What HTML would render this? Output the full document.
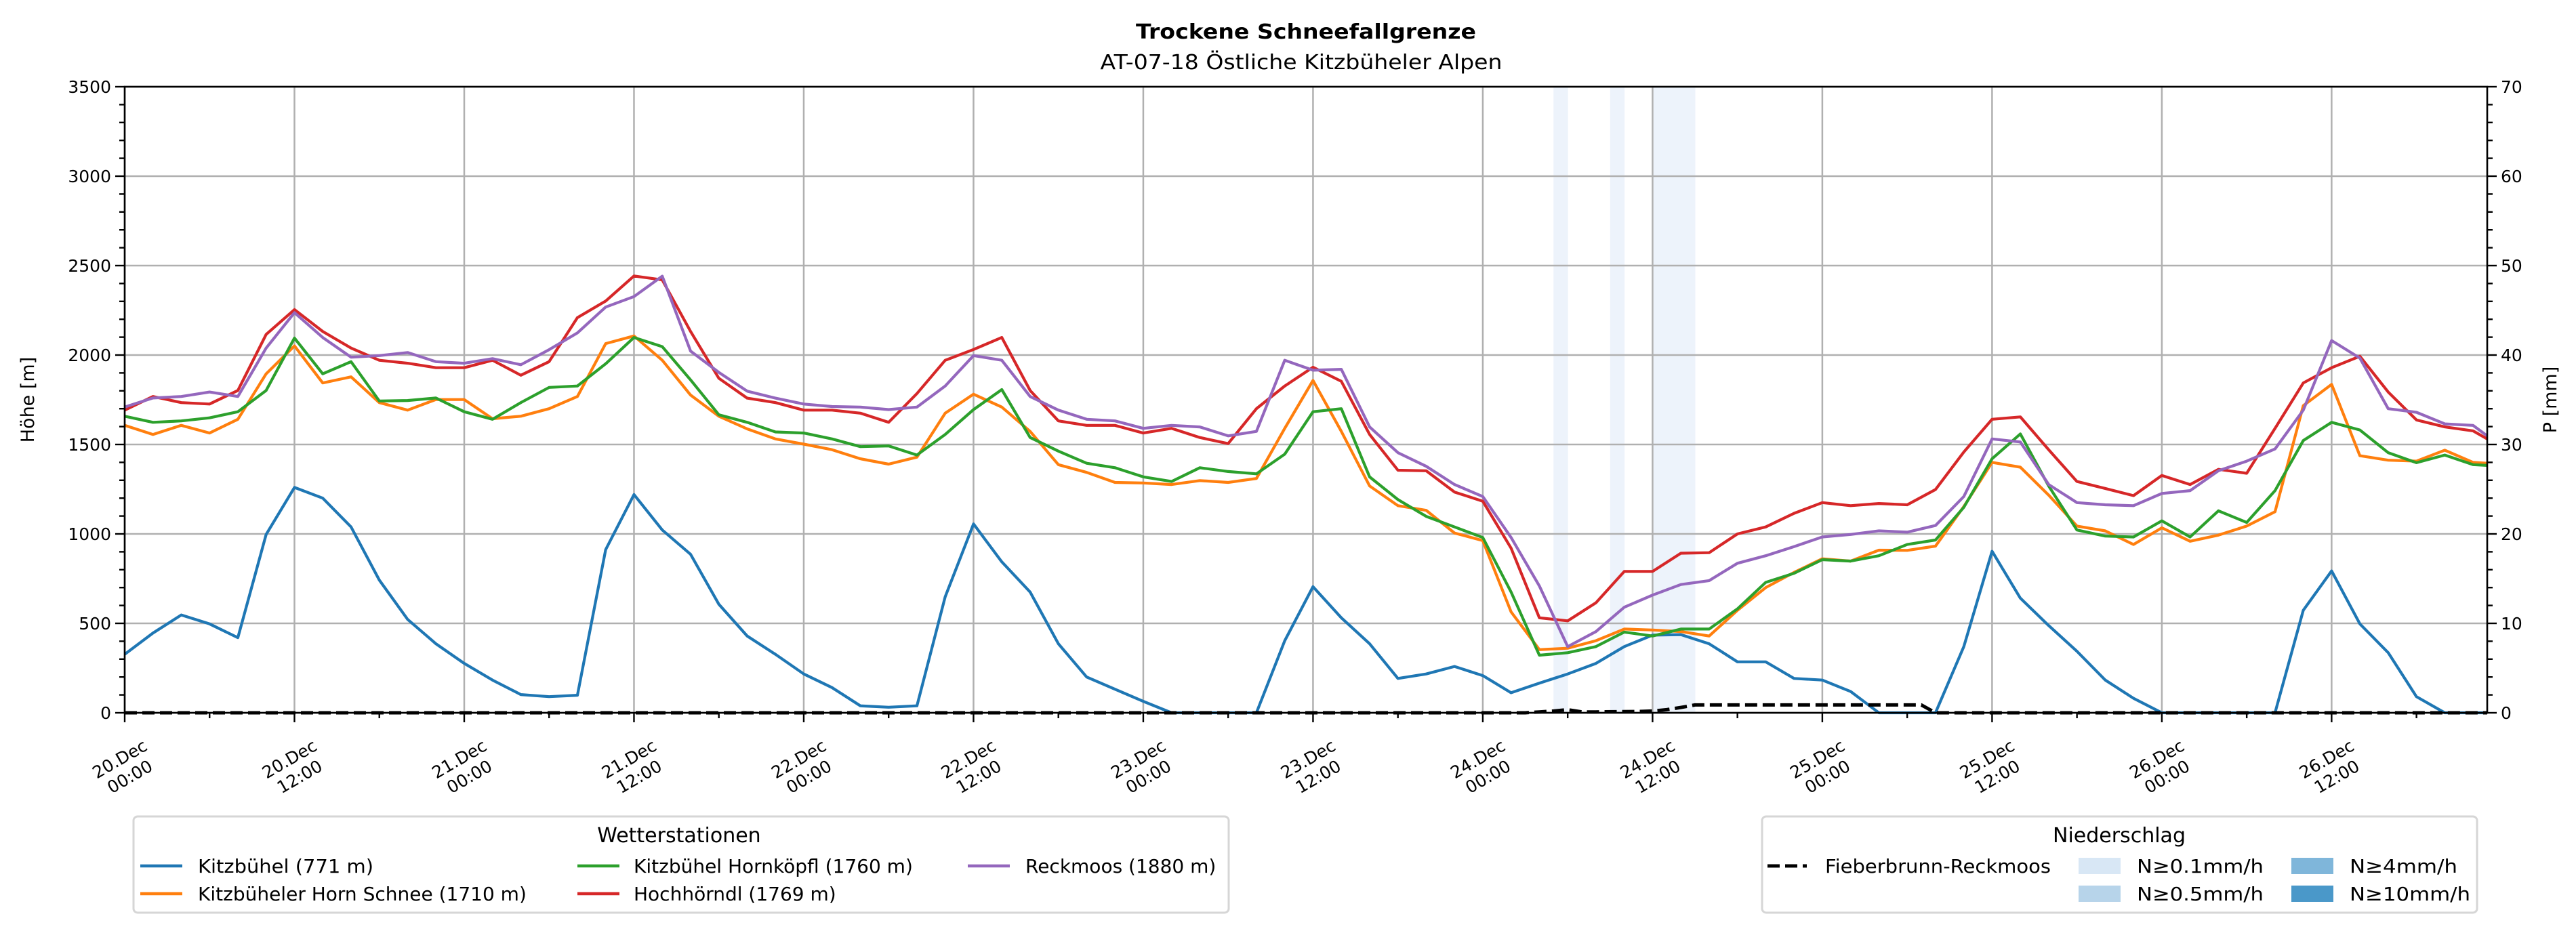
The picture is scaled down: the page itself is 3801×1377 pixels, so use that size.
<!DOCTYPE html>
<html><head><meta charset="utf-8">
<style>
html,body{margin:0;padding:0;background:#fff;}
svg{display:block;font-family:"DejaVu Sans","Liberation Sans",sans-serif;}
</style></head>
<body>
<svg id="chart" xmlns="http://www.w3.org/2000/svg" width="3801" height="1377" viewBox="0 0 3801 1377">
  <rect x="0" y="0" width="3801" height="1377" fill="#fff"/>
  <text x="1927" y="57" text-anchor="middle" font-weight="bold" font-size="30" textLength="502" lengthAdjust="spacingAndGlyphs">Trockene Schneefallgrenze</text>
  <text x="1920" y="102" text-anchor="middle" font-size="30" textLength="593" lengthAdjust="spacingAndGlyphs">AT-07-18 Östliche Kitzbüheler Alpen</text>
  <g id="bands"></g>
  <g id="grid"></g>
  <g id="series"></g>
  <g id="axes"></g>
  <text transform="translate(50,590) rotate(-90)" text-anchor="middle" font-size="27">Höhe [m]</text>
  <text transform="translate(3772,590) rotate(-90)" text-anchor="middle" font-size="27">P [mm]</text>

  <g>
    <rect x="197" y="1205" width="1616" height="142" rx="6" fill="#fff" stroke="#d6d6d6" stroke-width="3"/>
    <text x="1002" y="1243" text-anchor="middle" font-size="30">Wetterstationen</text>
    <g><line x1="207" y1="1278" x2="269" y2="1278" stroke="#1f77b4" stroke-width="4.5"/><text x="292" y="1288" font-size="28" textLength="259" lengthAdjust="spacingAndGlyphs">Kitzbühel (771 m)</text></g>
    <g><line x1="207" y1="1319" x2="269" y2="1319" stroke="#ff7f0e" stroke-width="4.5"/><text x="292" y="1329" font-size="28">Kitzbüheler Horn Schnee (1710 m)</text></g>
    <g><line x1="852" y1="1278" x2="914" y2="1278" stroke="#2ca02c" stroke-width="4.5"/><text x="935" y="1288" font-size="28">Kitzbühel Hornköpfl (1760 m)</text></g>
    <g><line x1="852" y1="1319" x2="914" y2="1319" stroke="#d62728" stroke-width="4.5"/><text x="935" y="1329" font-size="28">Hochhörndl (1769 m)</text></g>
    <g><line x1="1428" y1="1278" x2="1490" y2="1278" stroke="#9467bd" stroke-width="4.5"/><text x="1513" y="1288" font-size="28">Reckmoos (1880 m)</text></g>
  </g>

  <g>
    <rect x="2600" y="1205" width="1055" height="142" rx="6" fill="#fff" stroke="#d6d6d6" stroke-width="3"/>
    <text x="3127" y="1243" text-anchor="middle" font-size="30">Niederschlag</text>
    <g><line x1="2608" y1="1278" x2="2666" y2="1278" stroke="#000" stroke-width="5" stroke-dasharray="18,8"/><text x="2693" y="1288" font-size="28" textLength="333" lengthAdjust="spacingAndGlyphs">Fieberbrunn-Reckmoos</text></g>
    <g><rect x="3067" y="1266" width="62" height="24" fill="#d8e7f5"/><text x="3153" y="1288" font-size="28" textLength="187" lengthAdjust="spacingAndGlyphs">N≥0.1mm/h</text></g>
    <g><rect x="3067" y="1307" width="62" height="24" fill="#b7d4ea"/><text x="3153" y="1329" font-size="28" textLength="187" lengthAdjust="spacingAndGlyphs">N≥0.5mm/h</text></g>
    <g><rect x="3381" y="1266" width="62" height="24" fill="#7fb6da"/><text x="3467" y="1288" font-size="28" textLength="159" lengthAdjust="spacingAndGlyphs">N≥4mm/h</text></g>
    <g><rect x="3381" y="1307" width="62" height="24" fill="#4a98c9"/><text x="3467" y="1329" font-size="28" textLength="178" lengthAdjust="spacingAndGlyphs">N≥10mm/h</text></g>
  </g>
</svg>
<script>
// ---- data ----
const hours = [0,2,4,6,8,10,12,14,16,18,20,22,24,26,28,30,32,34,36,38,40,42,44,46,48,50,52,54,56,58,60,62,64,66,68,70,72,74,76,78,80,82,84,86,88,90,92,94,96,98,100,102,104,106,108,110,112,114,116,118,120,122,124,126,128,130,132,134,136,138,140,142,144,146,148,150,152,154,156,158,160,162,164,166,167];
const kitzbuehel = [327,446,547,497,420,997,1260,1200,1039,742,522,386,276,183,102,90,98,912,1220,1022,886,607,429,327,217,141,39,31,39,649,1056,844,675,386,200,132,64,0,0,0,0,403,705,531,386,192,217,259,208,112,166,217,276,370,434,437,386,285,285,192,183,119,0,0,0,370,903,641,488,344,183,81,0,0,0,0,0,573,793,497,336,90,0,0,0];
const hornSchnee = [1607,1556,1607,1564,1641,1895,2051,1844,1878,1734,1692,1751,1751,1644,1658,1700,1768,2064,2107,1971,1776,1658,1587,1531,1502,1471,1420,1390,1429,1675,1781,1709,1573,1387,1344,1288,1285,1276,1298,1288,1310,1590,1858,1573,1268,1158,1132,1005,963,564,353,361,403,468,463,454,429,573,700,785,861,848,909,908,932,1153,1400,1373,1217,1044,1017,941,1034,959,993,1044,1124,1717,1836,1437,1412,1407,1468,1400,1395];
const hornkoepfl = [1658,1624,1632,1649,1683,1802,2095,1895,1963,1743,1746,1760,1683,1641,1734,1819,1827,1951,2098,2047,1861,1666,1624,1570,1564,1531,1488,1492,1441,1556,1695,1807,1539,1463,1395,1370,1319,1293,1370,1349,1336,1446,1683,1700,1319,1192,1098,1039,980,675,322,336,370,451,429,468,468,581,729,780,856,848,878,941,966,1149,1420,1559,1268,1022,988,983,1073,983,1129,1064,1242,1522,1624,1581,1454,1398,1441,1387,1383];
const hochhoerndl = [1692,1768,1734,1726,1802,2115,2254,2132,2039,1971,1954,1929,1929,1971,1887,1963,2209,2302,2442,2420,2132,1870,1759,1734,1692,1692,1675,1624,1785,1971,2031,2098,1802,1632,1607,1607,1564,1590,1539,1505,1700,1827,1932,1853,1556,1356,1353,1234,1183,920,531,514,615,790,790,892,895,1000,1039,1115,1175,1158,1170,1163,1248,1458,1641,1654,1471,1293,1254,1214,1327,1276,1361,1339,1590,1844,1929,1993,1793,1637,1598,1576,1531];
const reckmoos = [1709,1760,1768,1793,1768,2039,2237,2098,1988,1997,2014,1963,1954,1980,1946,2030,2124,2268,2327,2441,2022,1903,1798,1759,1726,1712,1709,1695,1709,1827,1997,1971,1768,1692,1641,1632,1590,1607,1598,1548,1573,1971,1915,1920,1598,1454,1378,1276,1209,980,709,370,454,590,658,717,739,836,878,929,983,997,1017,1010,1047,1209,1531,1514,1276,1175,1163,1158,1226,1242,1353,1407,1475,1692,2081,1983,1700,1680,1615,1607,1548];
const precipHours = [0,99,100,101,102,103,104,107,108,109,110,111,127,128,167];
const precipMm = [0,0,0.1,0.2,0.35,0.1,0.1,0.15,0.2,0.35,0.6,0.88,0.88,0,0];
const bandStart = [101,105,108,109,110];
const yTicks = [0,500,1000,1500,2000,2500,3000,3500];
const y2Ticks = [0,10,20,30,40,50,60,70];
const xTickDates = ["20.Dec","20.Dec","21.Dec","21.Dec","22.Dec","22.Dec","23.Dec","23.Dec","24.Dec","24.Dec","25.Dec","25.Dec","26.Dec","26.Dec"];
const xTickTimes = ["00:00","12:00","00:00","12:00","00:00","12:00","00:00","12:00","00:00","12:00","00:00","12:00","00:00","12:00"];

// ---- scales ----
const L=184,R=3670,T=128,B=1052,HMAX=167;
const xs = h => L + h*(R-L)/HMAX;
const ys = v => B - v*(B-T)/3500;
const yp = v => B - v*(B-T)/70;
const NS="http://www.w3.org/2000/svg";
function mk(tag, parent){const e=document.createElementNS(NS,tag);document.getElementById(parent).appendChild(e);return e;}

bandStart.forEach((h,i)=>{
  const r=mk('rect','bands');
  
  
  r.setAttribute('x',xs(h));r.setAttribute('y',T);
  r.setAttribute('width',xs(h+1)-xs(h)+0.5);r.setAttribute('height',B-T);
  r.setAttribute('fill','#edf3fb');
});

yTicks.forEach(v=>{
  const l=mk('line','grid');
  
  
  l.setAttribute('x1',L);l.setAttribute('x2',R);l.setAttribute('y1',ys(v));l.setAttribute('y2',ys(v));
  l.setAttribute('stroke','#b0b0b0');l.setAttribute('stroke-width','2.5');
});
xTickDates.forEach((d,i)=>{
  const x=xs(i*12);
  const l=mk('line','grid');
  
  
  l.setAttribute('x1',x);l.setAttribute('x2',x);l.setAttribute('y1',T);l.setAttribute('y2',B);
  l.setAttribute('stroke','#b0b0b0');l.setAttribute('stroke-width','2.5');
});

const seriesList=[[kitzbuehel,'#1f77b4','series-kitzbuehel'],[hornSchnee,'#ff7f0e','series-horn-schnee'],[hornkoepfl,'#2ca02c','series-hornkoepfl'],[hochhoerndl,'#d62728','series-hochhoerndl'],[reckmoos,'#9467bd','series-reckmoos']];
seriesList.forEach(s=>{
  const p=mk('polyline','series');
  
  
  p.setAttribute('points',hours.map((h,i)=>xs(h).toFixed(1)+','+ys(s[0][i]).toFixed(1)).join(' '));
  p.setAttribute('fill','none');p.setAttribute('stroke',s[1]);p.setAttribute('stroke-width','4.2');
  p.setAttribute('stroke-linejoin','round');
});
const pl=mk('polyline','series');


pl.setAttribute('points',precipHours.map((h,i)=>xs(h).toFixed(1)+','+yp(precipMm[i]).toFixed(1)).join(' '));
pl.setAttribute('fill','none');pl.setAttribute('stroke','#000');pl.setAttribute('stroke-width','5');pl.setAttribute('stroke-dasharray','18,8');

const frame=mk('rect','axes');


frame.setAttribute('x',L);frame.setAttribute('y',T);frame.setAttribute('width',R-L);frame.setAttribute('height',B-T);
frame.setAttribute('fill','none');frame.setAttribute('stroke','#000');frame.setAttribute('stroke-width','2.6');
for(let v=0;v<=3500;v+=100){
  const major=v%500===0, len=major?14:8;
  const a=mk('line','axes');
  
  
  a.setAttribute('x1',L-len);a.setAttribute('x2',L);a.setAttribute('y1',ys(v));a.setAttribute('y2',ys(v));
  a.setAttribute('stroke','#000');a.setAttribute('stroke-width','2.4');
  const b=mk('line','axes');
  
  
  b.setAttribute('x1',R);b.setAttribute('x2',R+len);b.setAttribute('y1',ys(v));b.setAttribute('y2',ys(v));
  b.setAttribute('stroke','#000');b.setAttribute('stroke-width','2.4');
}
yTicks.forEach(v=>{
  const t=mk('text','axes');
  
  
  t.setAttribute('x',L-20);t.setAttribute('y',ys(v)+9);t.setAttribute('text-anchor','end');t.setAttribute('font-size','25');
  t.textContent=v;
});
y2Ticks.forEach(v=>{
  const t=mk('text','axes');
  
  
  t.setAttribute('x',R+20);t.setAttribute('y',yp(v)+9);t.setAttribute('font-size','25');
  t.textContent=v;
});
for(let h=0;h<=HMAX;h+=6){
  const major=h%12===0;
  const a=mk('line','axes');
  
  
  a.setAttribute('x1',xs(h));a.setAttribute('x2',xs(h));a.setAttribute('y1',B);a.setAttribute('y2',B+(major?14:8));
  a.setAttribute('stroke','#000');a.setAttribute('stroke-width','2.4');
}
xTickDates.forEach((d,i)=>{
  const t=mk('text','axes');
  
  
  t.setAttribute('transform','translate('+xs(i*12)+',1133) rotate(-30)');
  t.setAttribute('text-anchor','middle');t.setAttribute('font-size','25');
  const s1=document.createElementNS(NS,'tspan');s1.setAttribute('x',0);s1.setAttribute('y',-6);s1.textContent=d;
  const s2=document.createElementNS(NS,'tspan');s2.setAttribute('x',0);s2.setAttribute('y',24);s2.textContent=xTickTimes[i];
  t.appendChild(s1);t.appendChild(s2);
});
</script>
</body></html>
